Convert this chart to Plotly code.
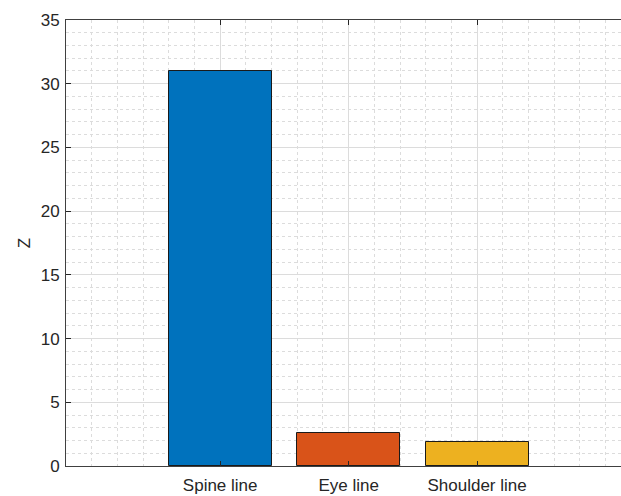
import plotly.graph_objects as go

# Bar chart of Z per reference line
categories = ["Spine line", "Eye line", "Shoulder line"]
positions = [1, 2, 3]
z_values = [31.0, 2.6, 1.85]
bar_colors = ["#0072BD", "#D95319", "#EDB120"]
y_ticks = [0, 5, 10, 15, 20, 25, 30, 35]

axis_color = "#262626"
font = dict(family="Liberation Sans, Arial, Helvetica, sans-serif", size=17, color=axis_color)

fig = go.Figure(
    go.Bar(
        x=positions,
        y=z_values,
        width=0.8,
        marker=dict(color=bar_colors, line=dict(color="#1a1a1a", width=1)),
        showlegend=False,
    )
)

fig.update_layout(
    width=621,
    height=496,
    margin=dict(l=66, r=0, t=20, b=30),
    paper_bgcolor="white",
    plot_bgcolor="white",
    font=font,
    bargap=0,
)

fig.update_xaxes(
    range=[-0.2, 4.12],
    tickvals=positions,
    ticktext=categories,
    ticks="inside",
    ticklen=5,
    tickcolor=axis_color,
    ticklabelstandoff=4,
    showline=True,
    linecolor="#404040",
    linewidth=1,
    mirror="ticks",
    showgrid=True,
    gridcolor="#dcdcdc",
    gridwidth=1,
    zeroline=False,
    minor=dict(tick0=0, dtick=0.2, showgrid=True, gridcolor="#dcdcdc", griddash="dot", gridwidth=1),
)

fig.update_yaxes(
    range=[0, 35],
    tickvals=y_ticks,
    ticks="inside",
    ticklen=5,
    tickcolor=axis_color,
    ticklabelstandoff=2,
    showline=True,
    linecolor="#404040",
    linewidth=1,
    mirror=False,
    showgrid=True,
    gridcolor="#dcdcdc",
    gridwidth=1,
    zeroline=False,
    title=dict(text="Z", standoff=5, font=font),
    minor=dict(tick0=0, dtick=1, showgrid=True, gridcolor="#dcdcdc", griddash="dot", gridwidth=1),
)

fig.write_html("out.html")
